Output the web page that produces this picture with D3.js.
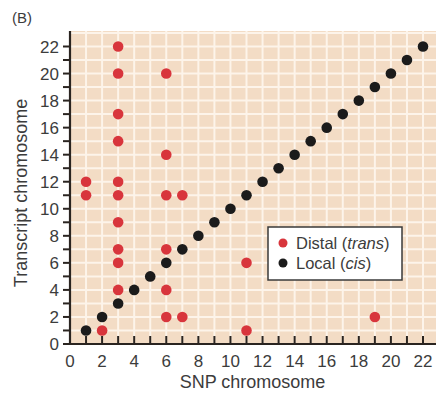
<!DOCTYPE html>
<html><head><meta charset="utf-8">
<script src="https://cdn.jsdelivr.net/npm/d3@7"></script>
<style>body{margin:0;background:#fff}svg{display:block}text{font-family:"Liberation Sans",Arial,sans-serif}</style>
</head><body><svg id="c" width="436" height="393"></svg>
<script>
const localX = [1,2,3,4,5,6,7,8,9,10,11,12,13,14,15,16,17,18,19,20,21,22];
const localY = [1,2,3,4,5,6,7,8,9,10,11,12,13,14,15,16,17,18,19,20,21,22];
const distalX = [1,1,2,3,3,3,3,3,3,3,3,3,3,6,6,6,6,6,6,7,7,11,11,19];
const distalY = [12,11,1,22,20,17,15,12,11,9,7,6,4,20,14,11,7,4,2,11,2,6,1,2];
const xTicks = [0,2,4,6,8,10,12,14,16,18,20,22];
const yTicks = [0,2,4,6,8,10,12,14,16,18,20,22];
const legendLabels = [["Distal (","trans",")"],["Local (","cis",")"]];

const svg = d3.select("#c");
const x = d3.scaleLinear().domain([0,22]).range([70,423]);
const y = d3.scaleLinear().domain([0,22]).range([344,46.5]);
const xMax = 436, yTop = 31;

svg.append("rect").attr("x",70).attr("y",yTop).attr("width",xMax-70).attr("height",344-yTop).attr("fill","#f3dcc5");
const g = svg.append("g");
d3.range(1,24).forEach(i=>{
  if (x(i) < xMax) g.append("line").attr("x1",x(i)).attr("x2",x(i)).attr("y1",yTop).attr("y2",344).attr("stroke","#fdf4ea").attr("stroke-width",2);
  if (y(i) > yTop) g.append("line").attr("x1",70).attr("x2",xMax).attr("y1",y(i)).attr("y2",y(i)).attr("stroke","#fdf4ea").attr("stroke-width",2);
});

// axes
const axCol = "#2a2420";
svg.append("line").attr("x1",70).attr("x2",70).attr("y1",yTop).attr("y2",345).attr("stroke",axCol).attr("stroke-width",2.2);
svg.append("line").attr("x1",69).attr("x2",xMax).attr("y1",344).attr("y2",344).attr("stroke",axCol).attr("stroke-width",2.2);
d3.range(0,23).forEach(i=>{
  svg.append("line").attr("x1",63).attr("x2",70).attr("y1",y(i)).attr("y2",y(i)).attr("stroke",axCol).attr("stroke-width",2);
  svg.append("line").attr("x1",x(i)).attr("x2",x(i)).attr("y1",336).attr("y2",344).attr("stroke",axCol).attr("stroke-width",2);
});
svg.selectAll(".yt").data(yTicks).join("text").attr("x",59).attr("y",d=>y(d)+6).attr("text-anchor","end")
  .attr("font-size",17).attr("fill","#3c3c3c").text(d=>d);
svg.selectAll(".xt").data(xTicks).join("text").attr("x",d=>x(d)).attr("y",366.5).attr("text-anchor","middle")
  .attr("font-size",17).attr("fill","#3c3c3c").text(d=>d);

svg.append("text").attr("x",252.5).attr("y",388).attr("text-anchor","middle").attr("font-size",18).attr("fill","#3c3c3c").text("SNP chromosome");
svg.append("text").attr("transform","translate(26.5,193) rotate(-90)").attr("text-anchor","middle").attr("font-size",18).attr("fill","#3c3c3c").text("Transcript chromosome");
svg.append("text").attr("x",12).attr("y",23).attr("font-size",15).attr("fill","#3c3c3c").text("(B)");

const red = "#d8353c", black = "#1b1b1b";
svg.selectAll(".d").data(distalX.map((v,i)=>[v,distalY[i]])).join("circle")
  .attr("cx",d=>x(d[0])).attr("cy",d=>y(d[1])).attr("r",5.3).attr("fill",red);
svg.selectAll(".l").data(localX.map((v,i)=>[v,localY[i]])).join("circle")
  .attr("cx",d=>x(d[0])).attr("cy",d=>y(d[1])).attr("r",5.3).attr("fill",black);

// legend
const lg = svg.append("g");
lg.append("rect").attr("x",268).attr("y",227).attr("width",134).attr("height",53).attr("fill","#fff").attr("stroke","#3a3a3a").attr("stroke-width",1.5);
[red,black].forEach((c,i)=>{
  lg.append("circle").attr("cx",283).attr("cy",243+i*20).attr("r",4.5).attr("fill",c);
  const t = lg.append("text").attr("x",296).attr("y",249+i*20).attr("font-size",16.5).attr("fill","#3c3c3c");
  t.append("tspan").text(legendLabels[i][0]);
  t.append("tspan").attr("font-style","italic").text(legendLabels[i][1]);
  t.append("tspan").text(legendLabels[i][2]);
});
</script></body></html>
